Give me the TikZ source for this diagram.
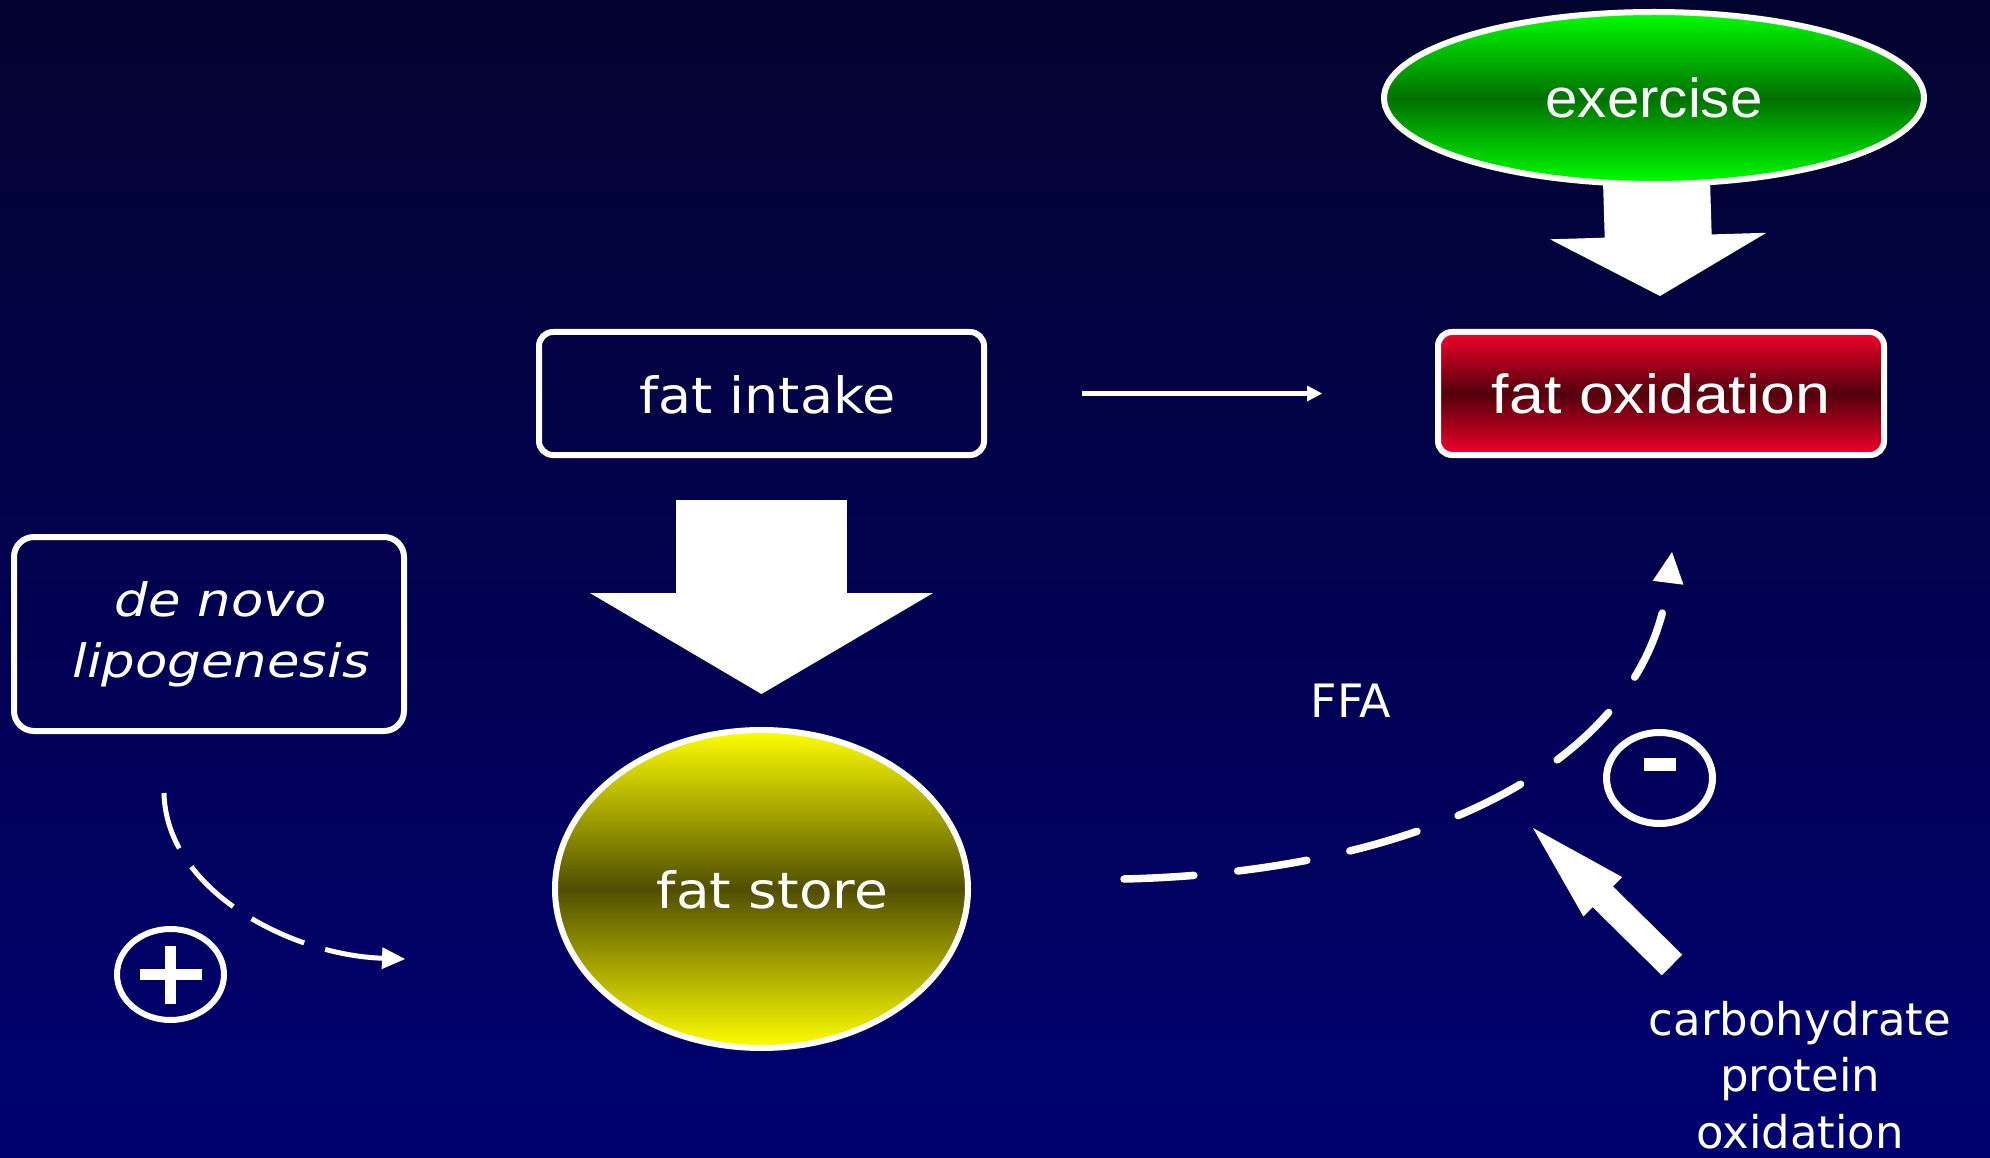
\documentclass[tikz,border=0pt]{standalone}
\usepackage{fontspec}
\setmainfont{DejaVu Sans}
\newfontfamily\arialfont{Liberation Sans}
\usepackage{graphicx}
\usetikzlibrary{shapes.geometric,arrows.meta}

\definecolor{bgtop}{RGB}{3,3,48}
\definecolor{bgbot}{RGB}{0,0,112}
\definecolor{exbright}{RGB}{0,255,0}
\definecolor{exdark}{RGB}{0,112,0}
\definecolor{oxbright}{RGB}{242,0,42}
\definecolor{oxdark}{RGB}{82,0,12}
\definecolor{stbright}{RGB}{255,255,0}
\definecolor{stdark}{RGB}{80,78,0}

\pgfdeclarelayer{bg}
\pgfdeclarelayer{under}
\pgfsetlayers{bg,under,main}

\begin{document}
\begin{tikzpicture}[
                x=1pt, y=-1pt,
                brd/.style={draw=white, line width=6pt},
                lbl/.style={text=white, inner sep=0pt, text height=39pt, text depth=0pt},
                verd/.style={font=\fontsize{50}{60}\selectfont},
                arl/.style={font=\arialfont\fontsize{55}{60}\selectfont}]

% background
\begin{pgfonlayer}{bg}
\shade [top color=bgtop, bottom color=bgbot] (0,0) rectangle (1990,1158);
\end{pgfonlayer}
\useasboundingbox (0,0) rectangle (1990,1158);


                    % 1
                    \node[brd,ellipse,minimum width=540pt,minimum height=172pt,top color=exbright,bottom color=exbright,middle color=exdark,lbl,arl] (EXER) at (1654,98) {\scalebox{1.06}[1]{exercise}}; % 1

                    % 2
                    \node[brd,rounded corners=14pt,minimum width=446pt,minimum height=123pt,top color=oxbright,bottom color=oxbright,middle color=oxdark,lbl,arl] (FATOX) at (1661,393.5) {\scalebox{1.14}[1]{fat oxidation}}; % 2
                    \begin{pgfonlayer}{under}
                    \path [white, line width=107pt, -{Triangle[length=60pt 0 0,width=216pt 0 0,line width=4pt]}, shorten >=33pt] (EXER.center) edge (FATOX.north);
                    \end{pgfonlayer}


                    % 3
                    \node[brd,rounded corners=14pt,minimum width=445pt,minimum height=123pt,lbl,verd] (FATIN) at (761.5,393.5) {\hspace*{12pt}\scalebox{1.08}[1]{fat intake}}; % 3
                    \path [white, line width=5pt, -{Triangle[length=15pt 0 0,width=16pt 0 0,line width=0pt]}, shorten <=95pt, shorten >=113pt] (FATIN.east) edge (FATOX.west);


                    % 4
                    \node[brd,ellipse,minimum width=413pt,minimum height=318pt,top color=stbright,bottom color=stbright,middle color=stdark,lbl,verd] (FATST) at (761.5,889) {\hspace*{22pt}\scalebox{1.1}[1]{fat store}}; % 4
                    \path [white, line width=171pt, -{Triangle[length=101pt 0 0,width=343pt 0 0,line width=1pt]}, shorten <=42pt, shorten >=33pt] (FATIN.south) edge (FATST.north);


                    % 5
                    \node[brd,rounded corners=20pt,minimum width=390pt,minimum height=194pt,align=center,text=white,inner sep=0pt,font=\itshape\fontsize{46}{61}\selectfont] (DNL) at (209,634) {\hspace*{24pt}\scalebox{1.15}[1]{de novo}\\\hspace*{24pt}\scalebox{1.15}[1]{lipogenesis}}; % 5
                    \coordinate (LSTART) at (164,793);
                    \coordinate (LEND) at (405,959);
                    \draw [white, line width=5pt, dash pattern=on 58pt off 22pt, -{Triangle[length=23pt 0 0,width=22pt 0 0,line width=0pt]}] (LSTART) .. controls (166,890) and (290,955) .. (LEND);

                    \node[brd,ellipse,minimum width=107pt,minimum height=91pt] (PLUS) at (170.5,974.5) {};
                    \draw [white, line width=10.5pt] ([xshift=-31pt]PLUS.center) -- ([xshift=31pt]PLUS.center)
                                                     ([yshift=-29pt]PLUS.center) -- ([yshift=29pt]PLUS.center);


                    % 6
                    \node[text=white,inner sep=0pt,anchor=base,font=\fontsize{46}{50}\selectfont] (FFA) at (1351,717) {FFA}; % 6
                    \coordinate (FSTART) at (1124,879);
                    \coordinate (FEND) at (1672,552);
                    \draw [white, line width=7.5pt, line cap=round, dash pattern=on 70pt off 44pt, -{Triangle[length=31pt 0 0,width=31pt 0 0,line width=0pt]}] (FSTART) .. controls (1420,872) and (1645,765) .. (FEND);

                    \node[draw=white,ellipse,line width=7pt,minimum width=106pt,minimum height=91pt] (MINUS) at (1659.5,778) {};
                    \fill [white] ([xshift=-16pt,yshift=7pt]MINUS.center) rectangle ([xshift=16pt,yshift=20pt]MINUS.center);


                    % 7
                    \node[text=white,inner sep=0pt,anchor=north,align=center,font=\fontsize{45}{56.5}\selectfont] (CARB) at (1800,1001) {carbohydrate\\protein\\oxidation}; % 7
                    \coordinate (CTAIL) at (1672,965);
                    \coordinate (CTIP) at (1533,828);
                    \path [white, line width=29pt, -{Triangle[length=98pt 0 0,width=55pt 0 0,line width=1pt]}] (CTAIL) edge (CTIP);


%%%%%%%%%%%%%%%%%%%%%%%%%%%%%%%%%%%%%%%%%%%%%%%%%%%%%%%%%%%%%%%%%%%%%%%%%%%%%%%%%%%%


\end{tikzpicture}
\end{document}
